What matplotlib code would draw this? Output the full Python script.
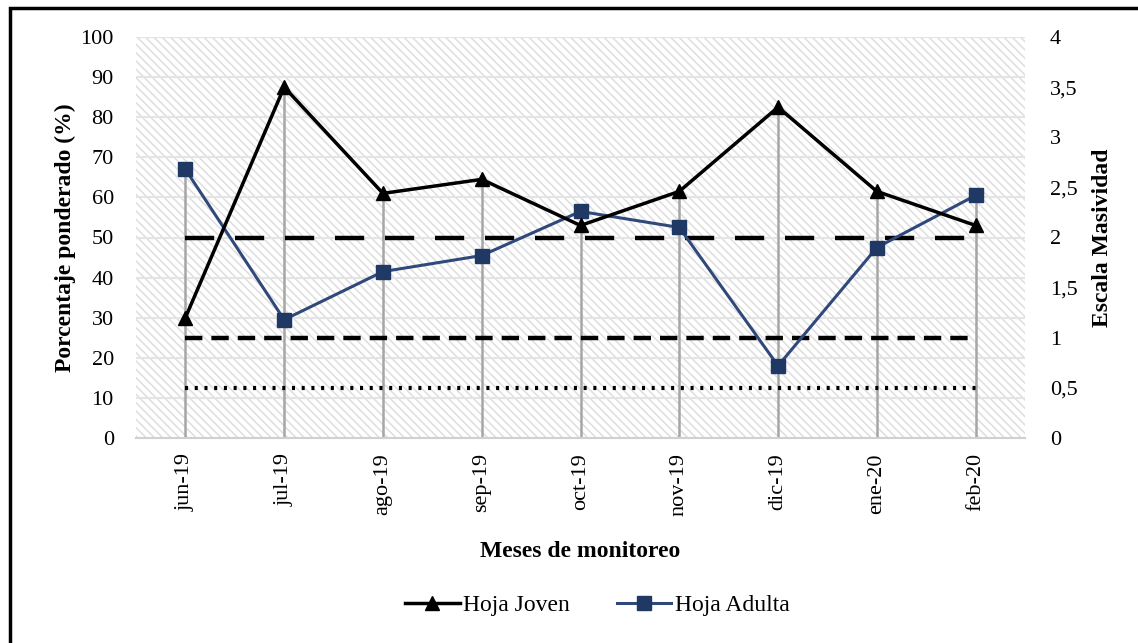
import matplotlib
matplotlib.use("Agg")
import matplotlib.pyplot as plt
from matplotlib.patches import Rectangle
import numpy as np

months = ["jun-19", "jul-19", "ago-19", "sep-19", "oct-19", "nov-19", "dic-19", "ene-20", "feb-20"]
hoja_joven = [30, 87.5, 61, 64.5, 53, 61.5, 82.5, 61.5, 53]
hoja_adulta = [67, 29.5, 41.5, 45.5, 56.5, 52.5, 18, 47.5, 60.5]
ref_levels = [50, 25, 12.5]
left_ticks = list(range(0, 101, 10))
right_ticks = [0, 0.5, 1, 1.5, 2, 2.5, 3, 3.5, 4]

plt.rcParams['font.family'] = ['Liberation Serif', 'DejaVu Serif']
plt.rcParams['hatch.color'] = '#dedede'
plt.rcParams['hatch.linewidth'] = 1.1
plt.rcParams['lines.scale_dashes'] = False

W, H = 1138, 643
fig = plt.figure(figsize=(W / 100, H / 100), dpi=100)
ax = fig.add_axes([136 / W, 1 - 438 / H, (1025 - 136) / W, (438 - 37) / H])
ax.set_zorder(2)

x = np.arange(len(months))
ax.set_xlim(-0.5, len(months) - 0.5)
ax.set_ylim(0, 100)

# hatched background
ax.add_patch(Rectangle((0, 0), 1, 1, transform=ax.transAxes, facecolor='white',
                       edgecolor='#dedede', hatch='\\\\\\\\', linewidth=0, zorder=0))
# gridlines
for t in left_ticks[1:]:
    ax.axhline(t, color='#e4e4e4', lw=1.5, zorder=0.5)

# drop lines
tops = [max(a, b) for a, b in zip(hoja_joven, hoja_adulta)]
ax.vlines(x, 0, tops, color='#a6a6a6', lw=1.8, zorder=1)

# reference lines
ax.plot([x[0], x[-1]], [ref_levels[0]] * 2, color='black', lw=3.2, dashes=(21, 15), zorder=2)
ax.plot([x[0], x[-1]], [ref_levels[1]] * 2, color='black', lw=3.2, dashes=(12.5, 6.5), zorder=2)
ax.plot([x[0], x[-1]], [ref_levels[2]] * 2, color='black', lw=3.0, dashes=(2.2, 4.8), zorder=2)

lj, = ax.plot(x, hoja_joven, color='black', lw=2.5, marker='^', markersize=10,
              markerfacecolor='black', markeredgecolor='black', label='Hoja Joven', zorder=4)
la, = ax.plot(x, hoja_adulta, color='#30497a', lw=2.2, marker='s', markersize=10,
              markerfacecolor='#1F3864', markeredgecolor='#1F3864', label='Hoja Adulta', zorder=3)

for s in ['top', 'left', 'right']:
    ax.spines[s].set_visible(False)
ax.spines['bottom'].set_color('#d0d0d0')
ax.spines['bottom'].set_linewidth(1.5)

ax.set_yticks(left_ticks)
ax.set_yticklabels([str(t) for t in left_ticks], fontsize=16)
ax.set_xticks(x)
ax.set_xticklabels(months, rotation=90, fontsize=16)
ax.tick_params(axis='both', length=0)
ax.tick_params(axis='y', pad=16)
ax.tick_params(axis='x', pad=11)

ax.set_xlabel('Meses de monitoreo', fontsize=17, fontweight='bold', labelpad=18)
ax.set_ylabel('Porcentaje ponderado (%)', fontsize=17, fontweight='bold', labelpad=3)

ax2 = ax.twinx()
ax2.set_ylim(0, 4)
ax2.set_yticks(right_ticks)
ax2.set_yticklabels([('%g' % t).replace('.', ',') for t in right_ticks], fontsize=16)
ax2.tick_params(axis='y', length=0, pad=18)
for s in ['top', 'left', 'right', 'bottom']:
    ax2.spines[s].set_visible(False)
ax2.set_ylabel('Escala Masividad', fontsize=17, fontweight='bold', labelpad=10)
ax2.set_zorder(1)

fig.legend(handles=[lj, la], loc='center', bbox_to_anchor=(0.525, 1 - 605 / H), ncol=2,
           frameon=False, fontsize=17, handlelength=2.3, columnspacing=2.0, handletextpad=0.15)

# outer frame
fig.patches.append(Rectangle((10 / W, -0.1), 1.5, 1 - 8 / H + 0.1, transform=fig.transFigure,
                             fill=False, edgecolor='black', lw=2.5))

fig.savefig('out.png', dpi=100)
